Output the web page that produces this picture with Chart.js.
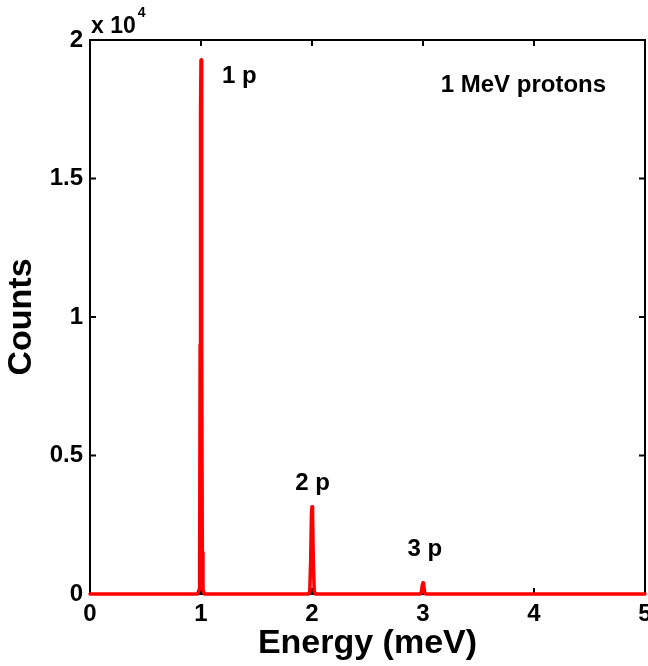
<!DOCTYPE html>
<html>
<head>
<meta charset="utf-8">
<script src="https://cdn.jsdelivr.net/npm/chart.js@4.4.1/dist/chart.umd.min.js"></script>
<style>
  html, body { margin: 0; padding: 0; background: #fff; }
  #wrap { width: 648px; height: 666px; }
</style>
</head>
<body>
<div id="wrap"><canvas id="myChart" width="648" height="666"></canvas></div>
<script>
'use strict';

// spectrum
let energies = [0, 0.97, 0.982, 0.988, 0.992, 0.996, 1.0, 1.004, 1.008, 1.012, 1.018, 1.03,
  1.97, 1.98, 1.988, 1.995, 2.0, 2.005, 2.012, 2.02, 2.03,
  2.975, 2.985, 2.994, 3.0, 3.006, 3.015, 3.025, 5];
let counts = [0, 0, 150, 1500, 9000, 17500, 19280, 17500, 9000, 1500, 150, 0,
  0, 100, 1200, 2900, 3150, 2900, 1200, 100, 0,
  0, 60, 330, 400, 330, 60, 0, 0];

let xTicks = [0, 1, 2, 3, 4, 5];
let yTicks = [0, 5000, 10000, 15000, 20000];

let noteTexts = ['1 p', '2 p', '3 p', '1 MeV protons'];
let noteX = [1.19, 1.85, 2.86, 3.16];
let noteY = [18450, 3750, 1370, 18120];

let fontFamily = '"Liberation Sans", Arial, Helvetica, sans-serif';

let framePlugin = {
  id: 'frame',
  beforeDatasetsDraw(chart) {
    let ctx = chart.ctx;
    let a = chart.chartArea;
    let xs = chart.scales.x;
    let ys = chart.scales.y;
    ctx.save();
    ctx.strokeStyle = '#000';
    ctx.lineWidth = 2;
    ctx.strokeRect(a.left, a.top, a.right - a.left, a.bottom - a.top);
    ctx.beginPath();
    for (let i = 0; i < xTicks.length; i++) {
      let px = xs.getPixelForValue(xTicks[i]);
      ctx.moveTo(px, a.bottom);
      ctx.lineTo(px, a.bottom - 6);
      ctx.moveTo(px, a.top);
      ctx.lineTo(px, a.top + 6);
    }
    for (let i = 0; i < yTicks.length; i++) {
      let py = ys.getPixelForValue(yTicks[i]);
      ctx.moveTo(a.left, py);
      ctx.lineTo(a.left + 6, py);
      ctx.moveTo(a.right, py);
      ctx.lineTo(a.right - 6, py);
    }
    ctx.stroke();
    ctx.restore();
  },
  afterDatasetsDraw(chart) {
    let ctx = chart.ctx;
    let a = chart.chartArea;
    let xs = chart.scales.x;
    let ys = chart.scales.y;
    ctx.save();
    ctx.fillStyle = '#000';
    ctx.font = 'bold 24px ' + fontFamily;
    ctx.textAlign = 'left';
    ctx.textBaseline = 'alphabetic';
    for (let i = 0; i < noteTexts.length; i++) {
      ctx.fillText(noteTexts[i], xs.getPixelForValue(noteX[i]), ys.getPixelForValue(noteY[i]));
    }
    // exponent label
    ctx.font = 'bold 23px ' + fontFamily;
    ctx.fillText('x 10', a.left + 1, a.top - 7);
    let w = ctx.measureText('x 10').width;
    ctx.font = 'bold 14px ' + fontFamily;
    ctx.fillText('4', a.left + 3 + w, a.top - 23);
    ctx.restore();
  }
};

let ctx = document.getElementById('myChart').getContext('2d');
let myChart = new Chart(ctx, {
  type: 'scatter',
  data: {
    datasets: [{
      data: energies.map((e, i) => ({ x: e, y: counts[i] })),
      showLine: true,
      borderColor: '#ff0000',
      borderWidth: 3.5,
      borderJoinStyle: 'round',
      borderCapStyle: 'round',
      pointRadius: 0,
      tension: 0,
      clip: 6
    }]
  },
  options: {
    responsive: false,
    devicePixelRatio: 1,
    animation: false,
    layout: { autoPadding: false, padding: { top: 40, right: 3, left: 0, bottom: 0 } },
    plugins: {
      legend: { display: false },
      tooltip: { enabled: false }
    },
    scales: {
      x: {
        type: 'linear',
        min: 0,
        max: 5,
        afterBuildTicks(scale) { scale.ticks = xTicks.map(v => ({ value: v })); },
        afterFit(scale) {
          scale.height = 72;
          scale.paddingLeft = 0;
          scale.paddingRight = 0;
        },
        grid: { display: false, drawTicks: false },
        border: { display: false },
        ticks: {
          color: '#000',
          padding: 6,
          maxRotation: 0,
          font: { family: fontFamily, size: 24, weight: 'bold' }
        },
        title: {
          display: true,
          text: 'Energy (meV)',
          color: '#000',
          padding: { top: 0, bottom: 2 },
          font: { family: fontFamily, size: 34, weight: 'bold' }
        }
      },
      y: {
        type: 'linear',
        min: 0,
        max: 20000,
        afterBuildTicks(scale) { scale.ticks = yTicks.map(v => ({ value: v })); },
        afterFit(scale) {
          scale.width = 90;
          scale.paddingTop = 0;
          scale.paddingBottom = 0;
        },
        grid: { display: false, drawTicks: false },
        border: { display: false },
        ticks: {
          color: '#000',
          padding: 7,
          callback: v => String(v / 10000),
          font: { family: fontFamily, size: 24, weight: 'bold' }
        },
        title: {
          display: true,
          text: 'Counts',
          color: '#000',
          padding: { top: 1, bottom: 0 },
          font: { family: fontFamily, size: 34, weight: 'bold' }
        }
      }
    }
  },
  plugins: [framePlugin]
});
</script>
</body>
</html>
